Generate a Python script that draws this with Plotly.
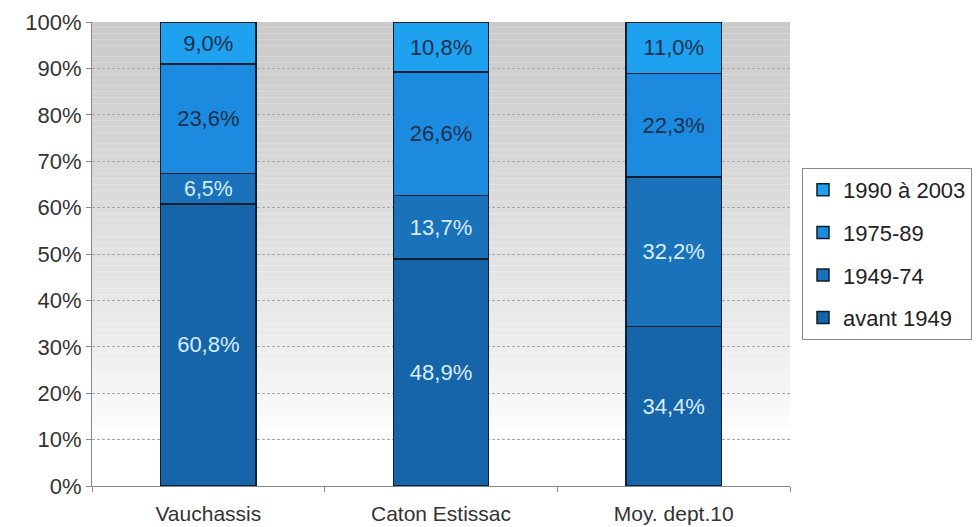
import plotly.graph_objects as go

categories = ["Vauchassis", "Caton Estissac", "Moy. dept.10"]
series_names = ["avant 1949", "1949-74", "1975-89", "1990 à 2003"]
avant_1949 = [60.8, 48.9, 34.4]
p1949_74 = [6.5, 13.7, 32.2]
p1975_89 = [23.6, 26.6, 22.3]
p1990_2003 = [9.0, 10.8, 11.0]
y_ticks = [0, 10, 20, 30, 40, 50, 60, 70, 80, 90, 100]
y_tick_labels = [f"{t}%" for t in y_ticks]

series_values = [avant_1949, p1949_74, p1975_89, p1990_2003]
colors = ["#1665A8", "#1A72BA", "#1C8BDF", "#1EA2F0"]
text_colors = ["#D8ECFF", "#D8ECFF", "#17304F", "#17304F"]

FONT = "Liberation Sans, Arial, sans-serif"
FS = 22

fig = go.Figure()
for i, (name, vals, col, tc) in enumerate(zip(series_names, series_values, colors, text_colors)):
    fig.add_trace(go.Bar(
        x=categories, y=vals, name=name, legendgroup=name,
        legendrank=1000 - i,
        marker=dict(color=col, line=dict(color="#0E1E2E", width=1.5)),
        texttemplate="%{y:.1f}%", textposition="inside",
        insidetextanchor="middle",
        textfont=dict(color=tc, size=FS, family=FONT),
        hoverinfo="skip",
    ))

# gradient background: grey at top fading to white near the bottom
shapes = []
n = 80
for i in range(n):
    y0 = 100 * i / n
    y1 = 100 * (i + 1) / n
    t = (y0 + y1) / 2 / 100.0
    f = max(0.0, min(1.0, (t - 0.12) / 0.88))
    f = f ** 0.7
    v = int(round(255 - f * (255 - 202)))
    shapes.append(dict(type="rect", xref="paper", yref="y", x0=0, x1=1,
                       y0=y0, y1=y1, fillcolor=f"rgb({v},{v},{v})",
                       line=dict(width=0), layer="below"))

fig.update_layout(
    width=976, height=527,
    margin=dict(l=92, r=186, t=22, b=41),
    paper_bgcolor="white", plot_bgcolor="white",
    barmode="stack", bargap=0.59,
    separators=", ",
    font=dict(family=FONT, size=FS, color="#333333"),
    shapes=shapes,
    legend=dict(
        xref="container", yref="container",
        x=802 / 976, y=1 - 168 / 527, xanchor="left", yanchor="top",
        bordercolor="#888888", borderwidth=1,
        font=dict(size=FS, color="#222222", family=FONT),
        traceorder="grouped", tracegroupgap=11,
        bgcolor="white",
    ),
    showlegend=True,
)
fig.update_yaxes(
    range=[0, 100], tickvals=y_ticks, ticktext=y_tick_labels,
    showgrid=True, gridcolor="#A8A8A8", griddash="3px,2px", gridwidth=1,
    showline=True, linecolor="#888888", linewidth=1,
    ticks="outside", ticklen=5, tickcolor="#888888",
    tickfont=dict(size=FS, color="#333333"), zeroline=False,
    automargin=False,
)
fig.update_xaxes(
    showline=True, linecolor="#888888", linewidth=1,
    ticks="outside", ticklen=5, tickcolor="#888888",
    tickson="boundaries", showgrid=False,
    tickfont=dict(size=21, color="#333333"),
    ticklabelstandoff=9, automargin=False,
)

fig.write_html(
    "out.html",
    config={"displayModeBar": False},
    post_script="document.body.style.margin='0';document.body.style.overflow='hidden';",
)
